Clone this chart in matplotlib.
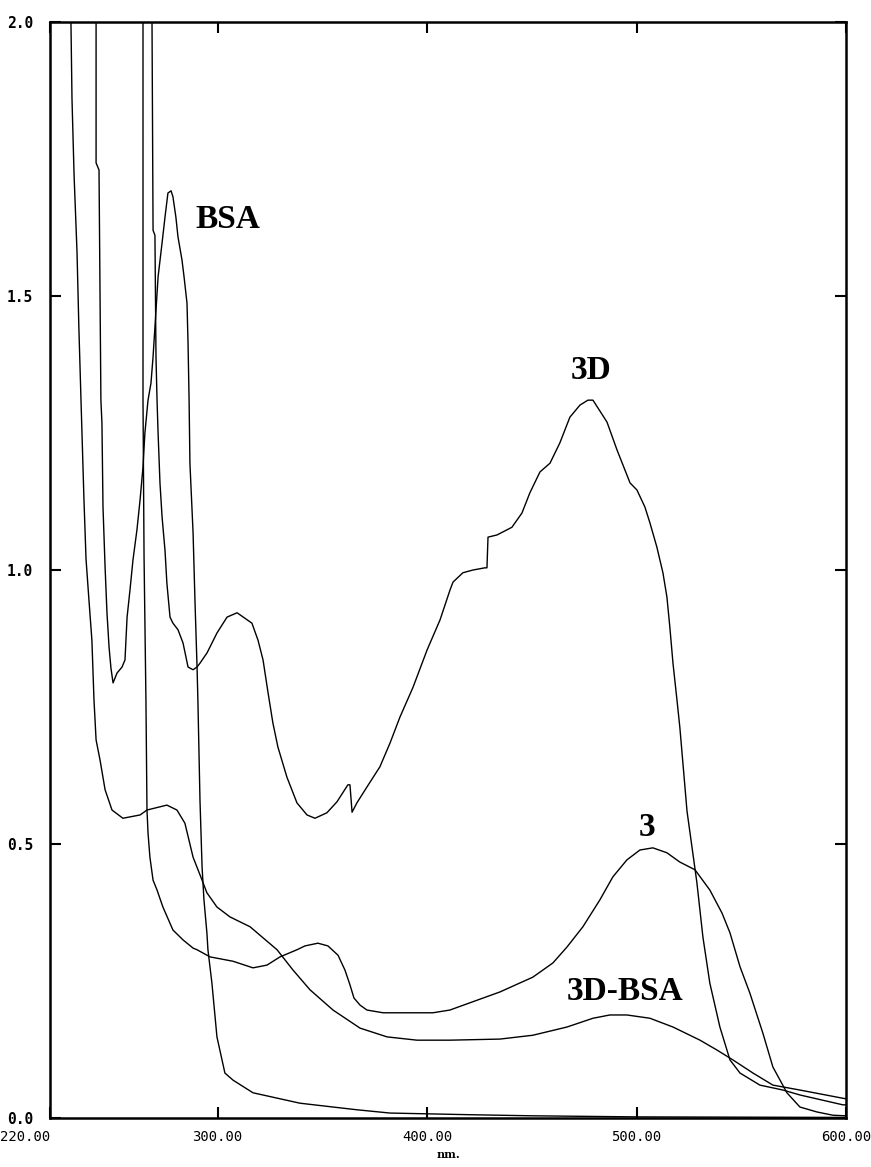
"""
UV-Vis 吸收光谱: BSA / 3D / 3 / 3D-BSA
"""

import matplotlib
matplotlib.use("Agg")
import matplotlib.pyplot as plt
import matplotlib.ticker as mticker

# --- 数据 (nm, 吸光度), 读自原图 ---
bsa_nm = [242.0, 242.0, 243.4, 244.3, 244.8, 245.3, 246.3, 247.2, 248.2, 249.1,
          250.1, 252.0, 254.4, 255.8, 256.8, 258.2, 259.6, 261.5, 263.0, 264.4,
          265.3, 266.8, 268.2, 269.2, 270.6, 271.6, 273.5, 274.9, 276.3, 277.8,
          278.7, 280.1, 281.1, 283.0, 284.0, 285.4, 285.9, 286.4, 286.8, 288.3,
          289.2, 290.2, 290.6, 291.6, 292.6, 293.5, 294.9, 295.4, 297.3, 299.7,
          303.5, 307.4, 316.9, 339.3, 355.1, 366.5, 382.3, 420.0, 450.0, 500.0,
          600.0]
bsa_abs = [2.00, 1.743, 1.730, 1.310, 1.268, 1.115, 1.005, 0.922, 0.859, 0.821,
           0.794, 0.812, 0.823, 0.836, 0.914, 0.964, 1.018, 1.073, 1.128, 1.188,
           1.250, 1.310, 1.341, 1.389, 1.474, 1.535, 1.597, 1.644, 1.688, 1.692,
           1.681, 1.644, 1.608, 1.566, 1.535, 1.487, 1.414, 1.310, 1.195, 1.068,
           0.945, 0.823, 0.763, 0.580, 0.458, 0.398, 0.338, 0.307, 0.246, 0.148,
           0.082, 0.069, 0.046, 0.027, 0.020, 0.015, 0.009, 0.006, 0.004, 0.002,
           0.001]

d3_nm = [268.7, 269.2, 270.1, 270.6, 271.1, 271.6, 272.5, 273.5, 274.9, 275.8,
         277.3, 278.7, 281.1, 283.5, 285.9, 288.3, 290.2, 291.6, 295.0, 299.7,
         304.5, 309.3, 316.4, 319.3, 321.7, 324.1, 326.4, 328.8, 333.1, 337.9,
         342.7, 346.5, 352.2, 357.0, 362.2, 363.2, 364.2, 366.5, 371.3, 377.5,
         382.3, 387.1, 393.3, 400.0, 406.2, 411.0, 412.4, 417.1, 421.9, 427.6,
         428.6, 429.1, 433.4, 440.5, 445.3, 449.1, 453.9, 458.7, 463.4, 468.2,
         473.0, 476.8, 479.2, 485.9, 490.7, 496.9, 500.2, 504.0, 506.4, 509.7,
         512.6, 514.5, 515.9, 517.4, 519.3, 520.7, 524.1, 528.8, 531.7, 535.0,
         539.8, 544.6, 549.4, 558.9, 569.9, 578.0, 598.5, 600.0]
d3_abs = [2.00, 1.620, 1.611, 1.389, 1.310, 1.250, 1.159, 1.097, 1.036, 0.976,
          0.914, 0.903, 0.891, 0.867, 0.823, 0.818, 0.823, 0.830, 0.849, 0.885,
          0.914, 0.922, 0.903, 0.872, 0.836, 0.776, 0.721, 0.677, 0.622, 0.575,
          0.553, 0.547, 0.557, 0.577, 0.608, 0.608, 0.558, 0.575, 0.604, 0.641,
          0.684, 0.732, 0.786, 0.854, 0.909, 0.964, 0.978, 0.995, 1.000, 1.004,
          1.004, 1.060, 1.064, 1.078, 1.104, 1.141, 1.179, 1.195, 1.232, 1.279,
          1.301, 1.310, 1.310, 1.270, 1.219, 1.159, 1.146, 1.115, 1.086, 1.042,
          0.995, 0.951, 0.896, 0.830, 0.763, 0.712, 0.560, 0.430, 0.330, 0.246,
          0.166, 0.106, 0.082, 0.060, 0.051, 0.042, 0.024, 0.024]

c3_nm = [264.4, 264.4, 264.9, 265.8, 266.3, 266.8, 267.7, 269.2, 271.1, 273.9,
         278.7, 283.5, 288.3, 290.2, 296.4, 307.4, 316.9, 323.6, 329.8, 337.9,
         341.7, 347.9, 352.7, 357.5, 360.8, 363.2, 365.1, 368.0, 371.3, 379.0,
         402.8, 410.9, 434.8, 450.5, 460.1, 466.8, 474.4, 482.5, 488.7, 495.4,
         501.6, 507.8, 514.5, 520.7, 527.9, 535.0, 540.8, 544.6, 549.4, 554.1,
         560.3, 565.1, 571.8, 578.0, 586.1, 593.8, 600.0]
c3_abs = [2.00, 1.310, 1.024, 0.763, 0.562, 0.520, 0.476, 0.434, 0.416, 0.385,
          0.343, 0.325, 0.310, 0.307, 0.294, 0.286, 0.274, 0.279, 0.294, 0.307,
          0.314, 0.319, 0.314, 0.297, 0.270, 0.243, 0.219, 0.206, 0.197, 0.192,
          0.192, 0.197, 0.230, 0.257, 0.283, 0.312, 0.349, 0.398, 0.440, 0.471,
          0.489, 0.493, 0.484, 0.467, 0.453, 0.416, 0.374, 0.338, 0.276, 0.228,
          0.155, 0.093, 0.046, 0.020, 0.011, 0.005, 0.004]

d3bsa_nm = [230.0, 230.5, 231.5, 232.9, 233.8, 234.8, 236.2, 237.2, 238.6, 240.0,
            241.0, 242.0, 243.9, 246.3, 249.6, 254.8, 263.0, 266.3, 275.8, 280.6,
            284.4, 288.3, 292.6, 294.9, 299.7, 305.9, 315.5, 328.4, 336.0, 344.1,
            355.1, 368.0, 380.9, 395.2, 410.9, 434.8, 450.5, 466.8, 479.2, 487.3,
            495.4, 506.4, 517.4, 530.3, 538.4, 546.0, 555.6, 565.1, 578.0, 598.5,
            600.0]
d3bsa_abs = [2.00, 1.86, 1.72, 1.58, 1.44, 1.31, 1.13, 1.02, 0.945, 0.872,
             0.763, 0.690, 0.653, 0.599, 0.562, 0.547, 0.553, 0.562, 0.571, 0.562,
             0.538, 0.476, 0.434, 0.411, 0.385, 0.367, 0.349, 0.307, 0.270, 0.234,
             0.197, 0.164, 0.148, 0.142, 0.142, 0.144, 0.151, 0.166, 0.182, 0.188,
             0.188, 0.182, 0.166, 0.142, 0.124, 0.106, 0.082, 0.060, 0.051, 0.036,
             0.035]

labels = ["BSA", "3D", "3", "3D-BSA"]
label_nm = [305.0, 478.2, 505.0, 494.5]
label_abs = [1.640, 1.365, 0.531, 0.230]

x_ticks = [220, 300, 400, 500, 600]
y_ticks = [0.0, 0.5, 1.0, 1.5, 2.0]

fig = plt.figure(figsize=(8.71, 11.67), dpi=100, facecolor="white")
ax = fig.add_axes([0.0574, 0.0420, 0.9139, 0.9391])

for xs, ys in [(bsa_nm, bsa_abs), (d3_nm, d3_abs), (c3_nm, c3_abs),
               (d3bsa_nm, d3bsa_abs)]:
    ax.plot(xs, ys, color="black", linewidth=1.0)

for txt, x, y in zip(labels, label_nm, label_abs):
    ax.text(x, y, txt, fontsize=24, fontweight="bold", family="Liberation Serif",
            ha="center", va="center", color="black")

ax.set_xlim(220, 600)
ax.set_ylim(0, 2.0)
ax.set_xticks(x_ticks)
ax.set_yticks(y_ticks)
ax.xaxis.set_major_formatter(mticker.FormatStrFormatter("%.2f"))
ax.yaxis.set_major_formatter(mticker.FormatStrFormatter("%.1f"))
ax.tick_params(direction="in", length=8, width=1.5, top=True, right=True,
               colors="black")
ax.tick_params(axis="x", labelsize=10, pad=9)
ax.tick_params(axis="y", labelsize=10.5, pad=12)
for lab in ax.get_xticklabels():
    lab.set_family("DejaVu Sans Mono")
for lab in ax.get_yticklabels():
    lab.set_family("DejaVu Sans Mono")
    lab.set_fontweight("bold")
ax.get_xticklabels()[0].set_horizontalalignment("right")

for sp in ax.spines.values():
    sp.set_linewidth(1.8)

ax.set_xlabel("nm.", fontsize=8, fontweight="bold", family="DejaVu Serif",
              labelpad=3)

fig.savefig("out.png", dpi=100, facecolor="white")
